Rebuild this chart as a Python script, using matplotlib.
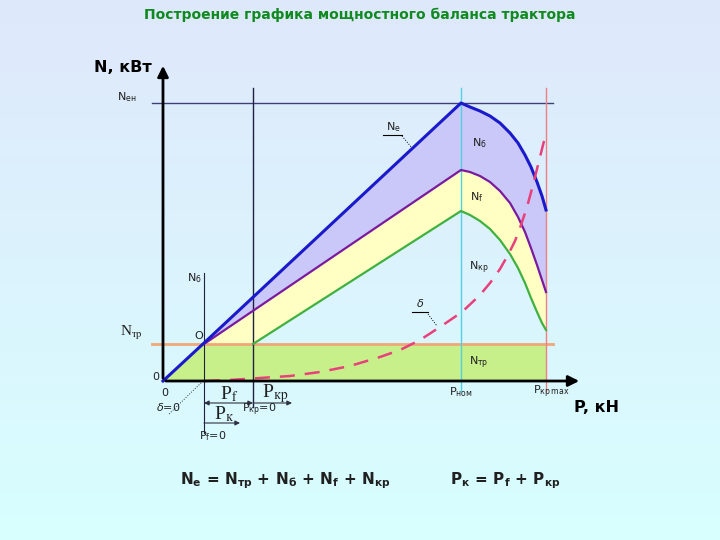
import numpy as np
import matplotlib.pyplot as plt

plt.rcParams['mathtext.fontset'] = 'dejavusans'

# tractor power balance, P in kN, N in kW (schematic values)
p_ne = [0, 4.1, 29.8, 30.7, 31.7, 32.7, 33.7, 34.7, 35.5, 36.2, 36.8, 37.4, 37.9, 38.3]
n_ne = [0, 3.8, 27.8, 27.4, 27.0, 26.5, 25.8, 24.8, 23.8, 22.6, 21.4, 19.9, 18.5, 17.1]

p_nb = [4.1, 29.8, 30.7, 31.7, 32.7, 33.7, 34.7, 35.5, 36.2, 36.8, 37.4, 37.9, 38.3]
n_nb = [3.7, 21.1, 20.9, 20.5, 19.9, 19.0, 17.8, 16.4, 14.9, 13.3, 11.6, 10.1, 8.9]

p_nf = [9.0, 29.8, 30.7, 31.7, 32.7, 33.7, 34.7, 35.5, 36.2, 36.8, 37.4, 37.9, 38.3]
n_nf = [3.7, 17.0, 16.6, 16.0, 15.2, 14.1, 12.7, 11.3, 9.8, 8.3, 6.9, 5.8, 5.1]

p_delta = [4.2, 6.7, 9.7, 12.7, 15.7, 18.7, 21.7, 23.7, 25.7, 27.7, 29.9, 31.7,
           32.7, 33.7, 34.5, 35.2, 35.7, 36.4, 37.0, 37.6, 38.2]
n_delta = [0.0, 0.1, 0.3, 0.5, 0.9, 1.5, 2.4, 3.1, 4.1, 5.4, 6.9, 8.6,
           9.8, 11.2, 12.6, 14.0, 15.3, 17.4, 19.6, 22.0, 24.4]

n_tr = 3.7
n_max = 27.8
p_o = 4.1
p_kr0 = 9.0
p_nom = 29.8
p_krmax = 38.3

fig = plt.figure(figsize=(7.2, 5.4), dpi=100)

# background gradient
bg = fig.add_axes([0, 0, 1, 1])
top = np.array([223, 232, 251]) / 255
bot = np.array([216, 255, 255]) / 255
t = np.linspace(0, 1, 256)[:, None]
grad = top[None, :] * (1 - t) + bot[None, :] * t
bg.imshow(grad[:, None, :], extent=[0, 1, 0, 1], aspect='auto')
bg.axis('off')

ax = fig.add_axes([93 / 720, 39 / 540, 530 / 720, 450 / 540])
ax.set_xlim(-7, 46)
ax.set_ylim(-12, 33)
ax.axis('off')
ax.patch.set_alpha(0)

# fills
ax.fill([0, p_o, p_krmax, p_krmax], [0, n_tr, n_tr, 0], color='#c8f08a', lw=0, zorder=1)
ax.fill(p_ne[1:] + p_nb[::-1], n_ne[1:] + n_nb[::-1], color='#c9c8f8', lw=0, zorder=1)
ax.fill(p_nb + p_nf[::-1] + [p_o], n_nb + n_nf[::-1] + [n_tr], color='#ffffc4', lw=0, zorder=1)

# guide lines
ax.plot([-1.1, 39.0], [n_max, n_max], color='#404078', lw=1, zorder=2)
ax.plot([-1.1, 39.0], [n_tr, n_tr], color='#f0a878', lw=2, zorder=2)
ax.plot([p_kr0, p_kr0], [29.3, -2.6], color='#202040', lw=1, zorder=2)
ax.plot([p_o, p_o], [10.8, -5.2], color='#202040', lw=0.8, zorder=2)
ax.plot([p_nom, p_nom], [29.3, -1.0], color='#50d0e0', lw=1, zorder=2)
ax.plot([p_krmax, p_krmax], [29.3, -1.0], color='#f08080', lw=1, zorder=2)

# curves
ax.plot(p_nf, n_nf, color='#40b040', lw=1.6, zorder=3)
ax.plot(p_nb, n_nb, color='#7a1aa0', lw=1.6, zorder=3)
ax.plot(p_ne, n_ne, color='#1a1acc', lw=2.2, zorder=4)
ax.plot(p_delta, n_delta, color='#e8407a', lw=1.8, dashes=(6, 4), zorder=4)
ax.plot([4.0, 0.5], [0, -3.4], color='#303050', lw=0.7, ls=':', zorder=2)

# axes with arrows
ax.annotate('', xy=(41.9, 0), xytext=(0, 0),
            arrowprops=dict(arrowstyle='-|>', lw=2, color='black', mutation_scale=16), zorder=5)
ax.annotate('', xy=(0, 31.8), xytext=(0, 0),
            arrowprops=dict(arrowstyle='-|>', lw=2, color='black', mutation_scale=16), zorder=5)

# dimension arrows
arr = dict(arrowstyle='<|-|>', lw=0.8, color='#303040', mutation_scale=7, shrinkA=0, shrinkB=0)
ax.annotate('', xy=(p_kr0, -2.2), xytext=(p_o, -2.2), arrowprops=arr)
arr1 = dict(arrowstyle='-|>', lw=0.8, color='#303040', mutation_scale=7, shrinkA=0, shrinkB=0)
ax.annotate('', xy=(12.9, -2.2), xytext=(p_kr0, -2.2), arrowprops=arr1)
ax.annotate('', xy=(7.7, -4.2), xytext=(p_o, -4.2), arrowprops=arr1)

# leaders for Ne and delta
ax.plot([22.0, 23.9], [24.6, 24.6], color='black', lw=0.8)
ax.plot([23.9, 24.9], [24.5, 23.3], color='black', lw=0.7, ls=':')
ax.plot([24.9, 26.5], [6.9, 6.9], color='black', lw=0.8)
ax.plot([26.5, 27.4], [6.7, 5.5], color='black', lw=0.7, ls=':')

# labels
small = dict(fontsize=8, color='#202020', ha='center', va='center')
ax.text(-3.6, 28.4, r'N$_{\mathrm{ен}}$', **small)
ax.text(-3.2, 4.8, r'N$_{\mathrm{тр}}$', fontsize=11, color='#202020', ha='center', va='center',
        family='Liberation Serif', math_fontfamily='stix')
ax.text(-0.7, 0.4, '0', **small)
ax.text(0.2, -1.2, '0', **small)
ax.text(3.6, 4.5, 'O', **small)
ax.text(3.1, 10.3, r'N$_{\mathrm{б}}$', **small)
ax.text(23.0, 25.4, r'N$_{\mathrm{e}}$', **small)
ax.text(31.6, 23.8, r'N$_{\mathrm{б}}$', **small)
ax.text(31.4, 18.4, r'N$_{\mathrm{f}}$', **small)
ax.text(31.6, 11.3, r'N$_{\mathrm{кр}}$', **small)
ax.text(25.7, 7.8, r'$\delta$', **small)
ax.text(31.6, 1.8, r'N$_{\mathrm{тр}}$', **small)
ax.text(p_nom, -1.1, r'P$_{\mathrm{ном}}$', **small)
ax.text(38.8, -1.1, r'P$_{\mathrm{кр\,max}}$', **small)
ax.text(9.6, -2.9, r'P$_{\mathrm{кр}}$=0', **small)
ax.text(5.0, -5.5, r'P$_{\mathrm{f}}$=0', **small)
ax.text(0.5, -2.6, r'$\delta$=0', **small)

big = dict(fontsize=14, color='#202020', ha='center', va='center',
           family='Liberation Serif', math_fontfamily='stix')
ax.text(6.6, -1.3, r'P$_{\mathrm{f}}$', **big)
ax.text(11.2, -1.3, r'P$_{\mathrm{кр}}$', **big)
ax.text(6.1, -3.3, r'P$_{\mathrm{к}}$', **big)

ax.text(-4.0, 31.3, 'N, кВт', fontsize=11.5, fontweight='bold', ha='center', va='center')
ax.text(43.3, -2.6, 'P, кН', fontsize=11.5, fontweight='bold', ha='center', va='center')

fig.text(0.5, 1 - 15 / 540, 'Построение графика мощностного баланса трактора',
         fontsize=10, fontweight='bold', color='#108a20', ha='center', va='center')
fig.text(285 / 720, 1 - 481 / 540,
         r'$\mathbf{N_e\,=\,N_{тр}\,+\,N_{б}\,+\,N_f\,+\,N_{кр}}$',
         fontsize=11, ha='center', va='center', color='#202020')
fig.text(505 / 720, 1 - 481 / 540, r'$\mathbf{P_к\,=\,P_f\,+\,P_{кр}}$',
         fontsize=11, ha='center', va='center', color='#202020')

fig.savefig('out.png', dpi=100)
